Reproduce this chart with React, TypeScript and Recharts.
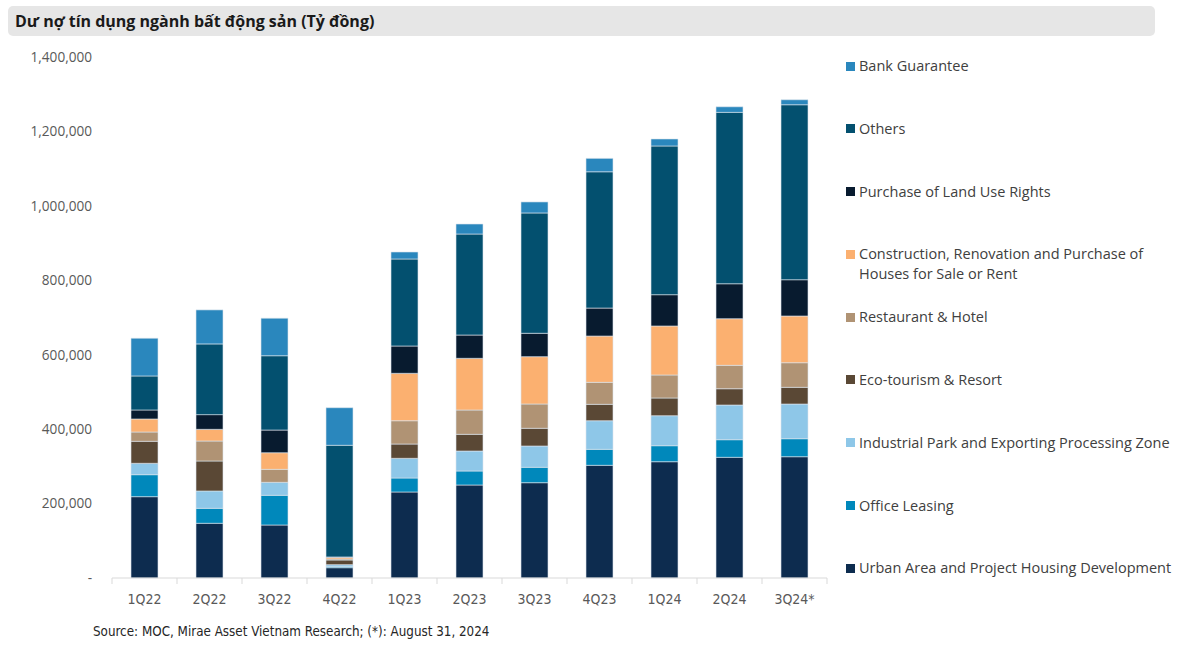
import { BarChart, Bar, XAxis, YAxis, Legend } from 'recharts';

const quarters = ['1Q22', '2Q22', '3Q22', '4Q22', '1Q23', '2Q23', '3Q23', '4Q23', '1Q24', '2Q24', '3Q24*'];

// values in billion VND (bottom of stack first)
const urban = [218500, 147000, 142400, 27700, 231100, 249900, 256100, 302800, 312500, 324300, 325900];
const office = [59100, 40300, 79800, 2700, 37600, 37600, 41400, 43000, 43000, 47300, 48400];
const industrial = [30600, 46500, 34900, 5400, 52900, 53700, 57200, 76800, 80600, 93200, 93200];
const eco = [59100, 80600, 0, 12600, 38400, 44900, 47600, 44100, 47600, 43800, 44900];
const restaurant = [25000, 53700, 34900, 2700, 62600, 65300, 65300, 59100, 61800, 62900, 66100];
const construction = [35000, 31400, 44600, 4500, 127400, 138900, 127100, 124400, 131700, 125200, 125500];
const land = [24200, 39500, 61000, 1000, 73400, 62600, 62900, 75200, 84100, 94000, 97500];
const others = [91400, 190000, 199700, 300000, 233800, 271400, 323300, 366200, 399600, 460500, 470200];
const bank = [101300, 91400, 100800, 101000, 18800, 26900, 29600, 36000, 18800, 15000, 13400];

const yTicks = [0, 200000, 400000, 600000, 800000, 1000000, 1200000, 1400000];

const series = [
  { key: 'urban', name: 'Urban Area and Project Housing Development', color: '#0d2c4f', values: urban },
  { key: 'office', name: 'Office Leasing', color: '#0088bb', values: office },
  { key: 'industrial', name: 'Industrial Park and Exporting Processing Zone', color: '#8ec7e8', values: industrial },
  { key: 'eco', name: 'Eco-tourism & Resort', color: '#5a4835', values: eco },
  { key: 'restaurant', name: 'Restaurant & Hotel', color: '#b09374', values: restaurant },
  { key: 'construction', name: 'Construction, Renovation and Purchase of\nHouses for Sale or Rent', color: '#fbb070', values: construction },
  { key: 'land', name: 'Purchase of Land Use Rights', color: '#081b2f', values: land },
  { key: 'others', name: 'Others', color: '#03506f', values: others },
  { key: 'bank', name: 'Bank Guarantee', color: '#2a87bd', values: bank },
];

const data = quarters.map((q, i) => {
  const row: Record<string, string | number> = { quarter: q };
  series.forEach(s => { row[s.key] = s.values[i]; });
  return row;
});

const W = 1200;
const H = 647;
const MARGIN = { top: 57, right: 373, bottom: 39, left: 32 };
const Y_WIDTH = 80;
const BAND = (W - MARGIN.left - MARGIN.right - Y_WIDTH) / quarters.length;

const FONT = '"Open Sans", "Noto Sans", sans-serif';
const NARROW = '"Liberation Sans Narrow", "DejaVu Sans Condensed", "Open Sans", sans-serif';

function QuarterTick(props: any) {
  const { x, y, payload, index } = props;
  const axisY = y - 8;
  return (
    <g>
      <line x1={x - BAND / 2} y1={axisY} x2={x - BAND / 2} y2={axisY + 6} stroke="#d9d9d9" />
      {index === quarters.length - 1 && (
        <line x1={x + BAND / 2} y1={axisY} x2={x + BAND / 2} y2={axisY + 6} stroke="#d9d9d9" />
      )}
      <text x={x} y={y} dy={18} textAnchor="middle" fill="#595959" fontSize={14} fontFamily={NARROW}>
        {payload.value}
      </text>
    </g>
  );
}

const renderLegend = () => (
  <div style={{ fontFamily: FONT, fontSize: 14.5, color: '#404040' }}>
    {[...series].reverse().map(s => (
      <div key={s.key} style={{ height: 62.8, display: 'flex', alignItems: 'flex-start' }}>
        <span style={{ width: 9, height: 9, background: s.color, marginTop: 5.5, marginRight: 4, flex: 'none' }} />
        <span style={{ lineHeight: '20px', whiteSpace: 'pre-line' }}>{s.name}</span>
      </div>
    ))}
  </div>
);

export default function App() {
  return (
    <div style={{ position: 'absolute', left: 0, top: 0, width: W, height: H, background: '#fff' }}>
      <div
        style={{
          position: 'absolute', left: 8, top: 6, width: 1147, height: 30, background: '#e6e6e6',
          borderRadius: 5, fontFamily: FONT, fontWeight: 700, fontSize: 16, lineHeight: '30px',
          color: '#1a1a1a', paddingLeft: 7, boxSizing: 'border-box',
        }}
      >
        Dư nợ tín dụng ngành bất động sản (Tỷ đồng)
      </div>
      <BarChart width={W} height={H} data={data} margin={MARGIN} barSize={27}>
        <XAxis
          dataKey="quarter"
          axisLine={{ stroke: '#d9d9d9' }}
          tickLine={false}
          tickSize={6}
          tickMargin={2}
          height={30}
          interval={0}
          tick={<QuarterTick />}
        />
        <YAxis
          domain={[0, 1400000]}
          ticks={yTicks}
          width={Y_WIDTH}
          axisLine={false}
          tickLine={false}
          tickSize={0}
          tickMargin={20}
          tick={{ fill: '#595959', fontSize: 13.6, fontFamily: FONT }}
          tickFormatter={(v: number) => (v === 0 ? '-' : v.toLocaleString('en-US'))}
        />
        <Legend
          layout="horizontal"
          align="center"
          verticalAlign="middle"
          content={renderLegend}
          wrapperStyle={{ left: 846, top: 56, width: 350, height: 570 }}
        />
        {series.map(s => (
          <Bar
            key={s.key}
            dataKey={s.key}
            name={s.name}
            stackId="a"
            fill={s.color}
            stroke="#dce4ec"
            strokeWidth={0.6}
            isAnimationActive={false}
          />
        ))}
      </BarChart>
      <div
        style={{
          position: 'absolute', left: 93, top: 624, fontFamily: NARROW, fontSize: 13.3, color: '#262626',
        }}
      >
        Source: MOC, Mirae Asset Vietnam Research; (*): August 31, 2024
      </div>
    </div>
  );
}
